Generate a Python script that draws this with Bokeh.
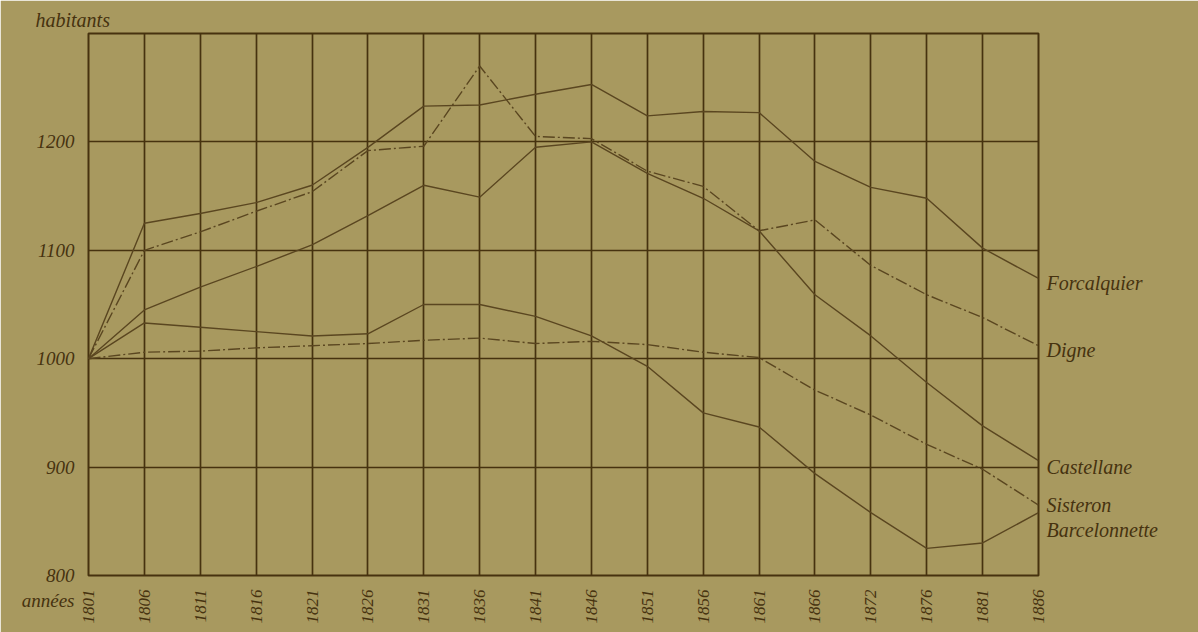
import math
from bokeh.plotting import figure
from bokeh.models import Range1d, FixedTicker, LinearAxis
from bokeh.embed import file_html
from bokeh.resources import INLINE

# ---- data (index values, base 1000 in 1801) ----
years = ["1801", "1806", "1811", "1816", "1821", "1826", "1831", "1836", "1841",
         "1846", "1851", "1856", "1861", "1866", "1872", "1876", "1881", "1886"]
forcalquier = [1000, 1125, 1134, 1144, 1160, 1195, 1233, 1234, 1244, 1253,
               1224, 1228, 1227, 1182, 1158, 1148, 1102, 1074]
digne = [1000, 1100, 1117, 1136, 1154, 1192, 1196, 1270, 1205, 1203,
         1173, 1159, 1118, 1128, 1086, 1059, 1038, 1012]
castellane = [1000, 1045, 1066, 1085, 1105, 1132, 1160, 1149, 1195, 1200,
              1171, 1148, 1118, 1059, 1021, 978, 938, 906]
sisteron = [1000, 1006, 1007, 1010, 1012, 1014, 1017, 1019, 1014, 1016,
            1013, 1006, 1001, 971, 948, 921, 898, 865]
barcelonnette = [1000, 1033, 1029, 1025, 1021, 1023, 1050, 1050, 1039, 1021,
                 993, 950, 937, 894, 858, 825, 830, 858]
series_names = ["Forcalquier", "Digne", "Castellane", "Sisteron", "Barcelonnette"]
y_ticks = [800, 900, 1000, 1100, 1200]
y_title = "habitants"
x_title = "années"

# ---- style ----
BG = "#a8995f"
INK = "#46320f"
LINE = "#5a4620"
FONT = "Liberation Serif"

series = [forcalquier, digne, castellane, sisteron, barcelonnette]
dashes = ["solid", "12 3 2 3", "solid", "12 3 2 3", "solid"]
name_shift = [-4, -4, -6, 0, -16]   # small vertical nudges of the end labels

xs = list(range(len(years)))

p = figure(width=1198, height=632,
           x_range=Range1d(0, len(years) - 1), y_range=Range1d(800, 1300),
           output_backend="svg", toolbar_location=None,
           min_border_left=88, min_border_right=160,
           min_border_top=33, min_border_bottom=57)

p.background_fill_color = BG
p.border_fill_color = BG
p.outline_line_color = INK
p.outline_line_width = 2

# title used as the "habitants" caption (top left)
p.title.text = y_title
p.title.align = "left"
p.title.offset = -53
p.title.standoff = 5
p.title.text_font = FONT
p.title.text_font_style = "italic"
p.title.text_font_size = "20px"
p.title.text_color = INK

# x axis
p.xaxis.ticker = FixedTicker(ticks=xs)
p.xaxis.major_label_overrides = {i: y for i, y in enumerate(years)}
p.xaxis.major_label_orientation = math.pi / 2
p.xaxis.major_label_text_font_size = "17px"
p.xaxis.major_label_standoff = 8

# y axis; the lowest label also carries the "années" caption on a second line
p.yaxis.ticker = FixedTicker(ticks=y_ticks)
p.yaxis.major_label_overrides = {y_ticks[0]: " \n%d\n%s" % (y_ticks[0], x_title)}
p.yaxis.major_label_text_font_size = "19px"
p.yaxis.major_label_standoff = 8

# right axis carrying the series names
name_ticks = [s[-1] + d for s, d in zip(series, name_shift)]
raxis = LinearAxis(ticker=FixedTicker(ticks=name_ticks),
                   major_label_overrides={t: n for t, n in zip(name_ticks, series_names)})
p.add_layout(raxis, "right")
raxis.major_label_standoff = 2
raxis.major_label_text_font_size = "20px"

for ax in (p.xaxis[0], p.yaxis[0], raxis):
    ax.axis_line_color = None
    ax.major_tick_line_color = None
    ax.minor_tick_line_color = None
    ax.major_label_text_font = FONT
    ax.major_label_text_font_style = "italic"
    ax.major_label_text_color = INK

# grid
p.xgrid.ticker = FixedTicker(ticks=xs)
p.ygrid.ticker = FixedTicker(ticks=y_ticks)
p.xgrid.grid_line_color = INK
p.xgrid.grid_line_width = 1.7
p.ygrid.grid_line_color = INK
p.ygrid.grid_line_width = 1.7

# lines
for vals, dash in zip(series, dashes):
    p.line(xs, vals, line_color=LINE, line_width=1.4, line_dash=dash)

open("out.html", "w").write(file_html(p, INLINE))
